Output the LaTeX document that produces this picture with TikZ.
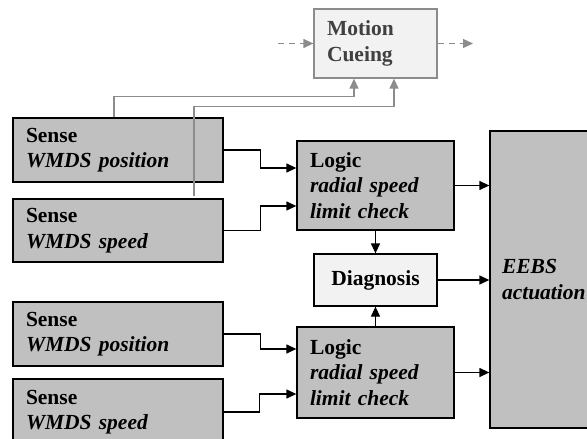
\documentclass[tikz,border=0pt]{standalone}
\usepackage{fontspec}
\setmainfont{Liberation Serif}
\usetikzlibrary{arrows.meta}

\definecolor{boxgray}{HTML}{C0C0C0}
\definecolor{lightbox}{HTML}{F2F2F2}
\definecolor{linegray}{HTML}{8C8C8C}
\definecolor{textgray}{HTML}{404040}

\tikzset{
  block/.style={draw, line width=1.3pt, fill=boxgray, align=left, anchor=center,
    inner xsep=13pt, inner ysep=0pt, text width=#1-26pt,
    font=\fontsize{21.5}{25.5}\selectfont\bfseries},
  arr/.style={line width=1.3pt, -{Triangle[length=10pt,width=9pt]}},
  garr/.style={line width=1.3pt, draw=linegray, -{Triangle[length=10pt,width=9pt,fill=linegray]}}
}

\begin{document}
\begin{tikzpicture}[x=1pt,y=-1pt]
\clip (0,0) rectangle (587,439);

% sensors
\node[block=210pt, minimum height=64pt] (s1) at (118,150) {Sense\\\textit{WMDS position}};
\node[block=210pt, minimum height=63pt] (s2) at (118,230.5) {Sense\\\textit{WMDS speed}};
\node[block=210pt, minimum height=64pt] (s3) at (118,334) {Sense\\\textit{WMDS position}};
\node[block=210pt, minimum height=66pt] (s4) at (118,412) {Sense\\\textit{WMDS speed}};

% logic, diagnosis, cueing
\node[block=157pt, minimum height=89pt] (l1) at (375.5,185.5) {Logic\\\textit{radial speed}\\\textit{limit check}};
\node[block=157pt, minimum height=91pt] (l2) at (375.5,372.5) {Logic\\\textit{radial speed}\\\textit{limit check}};
\node[block=123pt, minimum height=52pt, fill=lightbox, align=center] (dg) at (375.5,280) {Diagnosis};
\node[block=123pt, minimum height=69pt, fill=lightbox, draw=linegray, text=textgray] (mc) at (375.5,43.5) {Motion\\Cueing};

% actuator
\node[block=150pt, minimum height=297pt, inner xsep=12pt, text width=126pt] (ee) at (565,279.5) {\textit{EEBS}\\\textit{actuation}};

\coordinate (inL) at (278,43.5);
\coordinate (outR) at (473,43.5);

% signal lines
\draw[arr] (s1.east) -- ++(37,0) |- ([yshift=17.5pt]l1.west);
\draw[arr] (s2.east) -- ++(37,0) |- ([yshift=-20.5pt]l1.west);
\draw[arr] (s3.east) -- ++(37,0) |- ([yshift=23.5pt]l2.west);
\draw[arr] (s4.east) -- ++(36,0) |- ([yshift=-21.5pt]l2.west);

\draw[arr] (l1.east) -- (l1.east -| ee.west);
\draw[arr] (dg.east) -- (dg.east -| ee.west);
\draw[arr] (l2.east) -- (l2.east -| ee.west);
\draw[arr] (l1.south) -- (dg.north);
\draw[arr] (l2.north) -- (dg.south);

% cueing feeds
\draw[garr] ([xshift=-4pt]s1.north) -- ++(0,-21) -| ([xshift=-21.5pt]mc.south);
\draw[garr] ([xshift=76pt,yshift=2pt]s2.north) -- ++(0,-90) -| ([xshift=18.5pt]mc.south);
\draw[garr, dash pattern=on 6pt off 5pt] (inL) -- (mc.west);
\draw[garr, dash pattern=on 6pt off 5pt] (mc.east) -- (outR);

\end{tikzpicture}
\end{document}
